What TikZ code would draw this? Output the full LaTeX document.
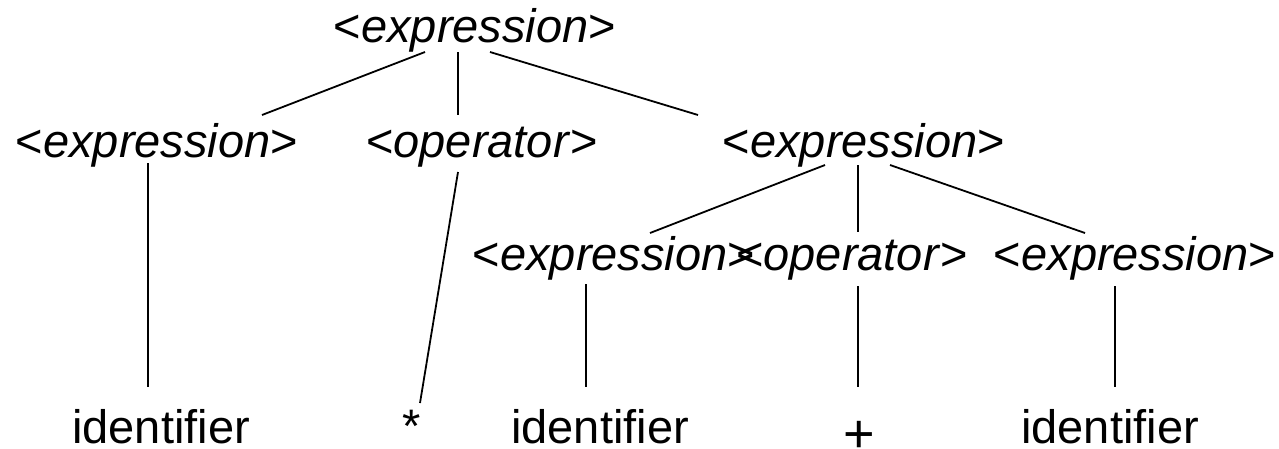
\documentclass[tikz,border=0pt]{standalone}
\usepackage{fontspec}
\setmainfont{Liberation Sans}
\begin{document}
\begin{tikzpicture}[x=1pt,y=-1pt,
  lbl/.style={font=\fontsize{47}{56}\selectfont, inner sep=0pt, anchor=base},
  plusl/.style={font=\fontsize{54}{64}\selectfont, inner sep=0pt, anchor=base},
  edge/.style={line width=1.8pt}]
\useasboundingbox (0,0) rectangle (1279,448);
% nodes
\node[lbl] (top) at (475,42) {<\textit{expression}>};
\node[lbl] (e1) at (157,157) {<\textit{expression}>};
\node[lbl] (o1) at (482,157) {<\textit{operator}>};
\node[lbl] (e2) at (864,157) {<\textit{expression}>};
\node[lbl] (e3) at (614,270) {<\textit{expression}>};
\node[lbl] (o2) at (852,270) {<\textit{operator}>};
\node[lbl] (e4) at (1135,270) {<\textit{expression}>};
\node[lbl] (l1) at (161,443) {identifier};
\node[lbl] (star) at (412,442) {*};
\node[lbl] (l3) at (600,443) {identifier};
\node[plusl] (plus) at (859,452) {+};
\node[lbl] (l5) at (1110,443) {identifier};
% connectors
\draw[edge] ([shift={(-50,10)}]top.base) -- ([shift={(105,-42)}]e1.base);
\draw[edge] ([shift={(-17,10)}]top.base) -- ([shift={(-24,-42)}]o1.base);
\draw[edge] ([shift={(15,10)}]top.base) -- ([shift={(-166,-42)}]e2.base);
\draw[edge] ([shift={(-9,6)}]e1.base) -- ([shift={(-13,-56)}]l1.base);
\draw[edge] ([shift={(-24,15)}]o1.base) -- ([shift={(8,-39)}]star.base);
\draw[edge] ([shift={(-39,8)}]e2.base) -- ([shift={(36,-37)}]e3.base);
\draw[edge] ([shift={(-6,8)}]e2.base) -- ([shift={(6,-38)}]o2.base);
\draw[edge] ([shift={(26,8)}]e2.base) -- ([shift={(-50,-37)}]e4.base);
\draw[edge] ([shift={(-28,14)}]e3.base) -- ([shift={(-14,-56)}]l3.base);
\draw[edge] ([shift={(6,16)}]o2.base) -- ([shift={(-1,-65)}]plus.base);
\draw[edge] ([shift={(-20,16)}]e4.base) -- ([shift={(5,-56)}]l5.base);
\end{tikzpicture}
\end{document}
